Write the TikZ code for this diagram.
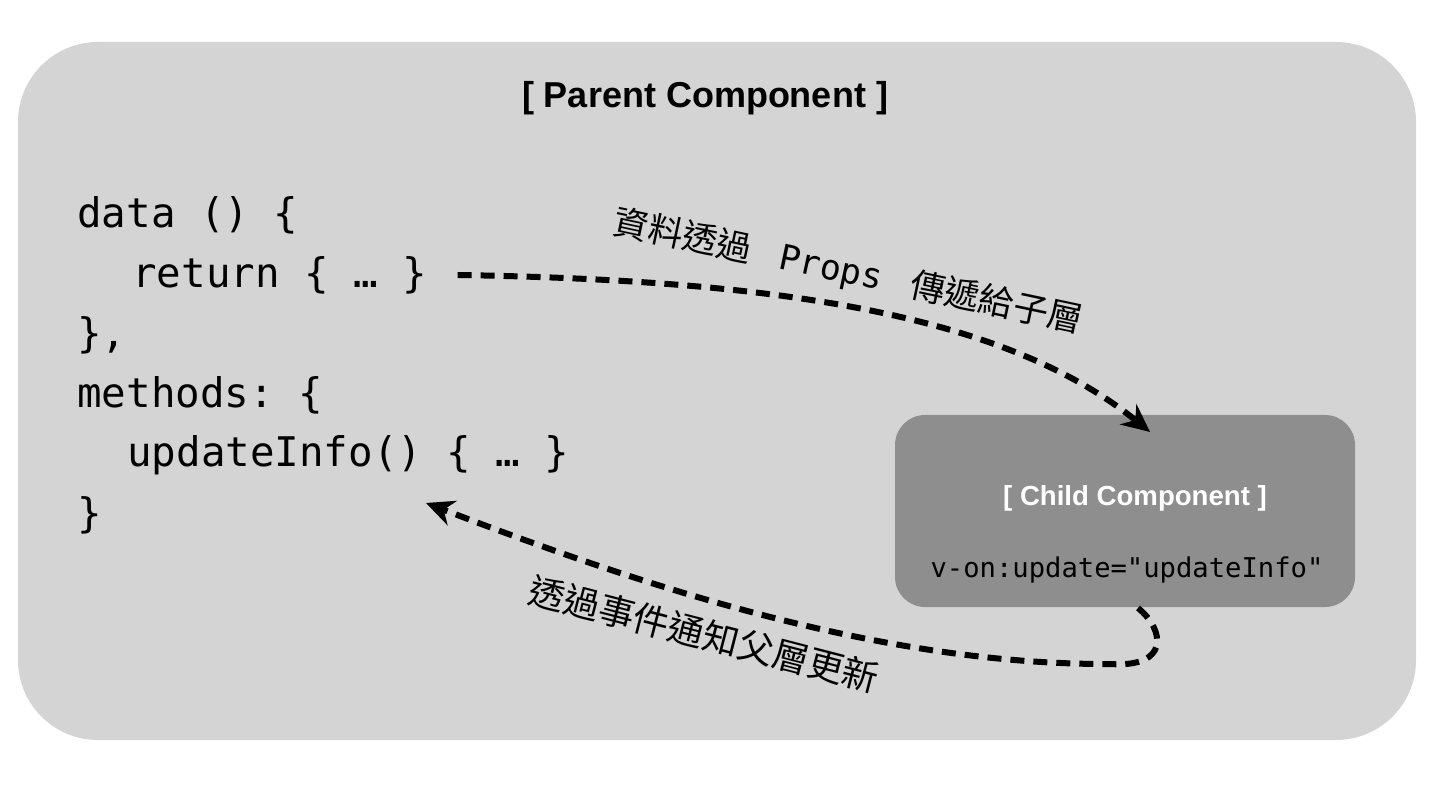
\documentclass[tikz,border=0pt]{standalone}
\usepackage{fontspec}
\setmainfont{Liberation Sans}
\setmonofont{DejaVu Sans Mono}
\newfontfamily\cjk{Noto Sans CJK TC}
\usetikzlibrary{arrows.meta}
\begin{document}
\begin{tikzpicture}[x=0.5pt,y=-0.5pt,
  flow/.style={line width=3pt,dash pattern=on 7pt off 4.5pt,-{Stealth[length=14pt,width=13pt]}},
  code/.style={anchor=west,font=\ttfamily\fontsize{20.4}{22}\selectfont,inner sep=0}]
\useasboundingbox (0,0) rectangle (1444,790);
\node[draw=none,fill={rgb,255:red,212;green,212;blue,212},rounded corners=40pt,minimum width=699pt,minimum height=349pt,inner sep=0] (parent) at (717,391) {};
\node[font=\bfseries\fontsize{18}{21}\selectfont] (ptitle) at (705,98) {[ Parent Component ]};
\node[code] (l1) at (77,215) {data () \{};
\node[code] (l2) at (132,275) {return \{ … \}};
\node[code] (l3) at (77,335) {\},};
\node[code] (l4) at (77,395) {methods: \{};
\node[code] (l5) at (127,455) {updateInfo() \{ … \}};
\node[code] (l6) at (77,515) {\}};
\node[fill={rgb,255:red,142;green,142;blue,142},rounded corners=15pt,minimum width=230pt,minimum height=96pt,inner sep=0] (child) at (1125,511) {};
\node[text=white,font=\bfseries\fontsize{13.8}{16}\selectfont] (ctitle) at (1135,498) {[ Child Component ]};
\node[font=\ttfamily\fontsize{13.6}{15}\selectfont] (cattr) at (1127,570) {v-on:update="updateInfo"};
\coordinate (a1e) at (1150,432);
\coordinate (a2s) at (1138,608);
\coordinate (a2m) at (1110,664);
\coordinate (a2e) at (426,503);
\draw[flow] (l2.east)+(30,0) .. controls (760,280) and (1000,310) .. (a1e);
\draw[flow] (a2s) .. controls (1165,630) and (1170,668) .. (a2m) .. controls (880,665) and (640,585) .. (a2e);
\node[font=\cjk\fontsize{17.5}{20}\selectfont,rotate=-12] (lab1) at (848,272) {資料透過 \texttt{ Props } 傳遞給子層};
\node[font=\cjk\fontsize{18}{20}\selectfont,rotate=-14.5] (lab2) at (704,634) {透過事件通知父層更新};
\end{tikzpicture}
\end{document}
